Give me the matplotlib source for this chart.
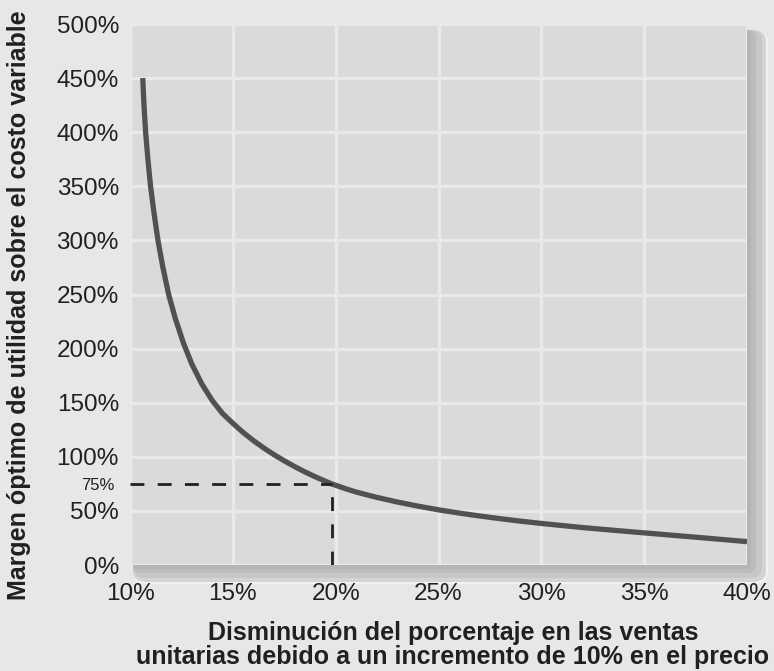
import numpy as np
import matplotlib.pyplot as plt
from matplotlib.patches import FancyBboxPatch

plt.rcParams['font.family'] = ['Liberation Sans', 'DejaVu Sans']

# curve (x: % sales drop, y: optimal markup %)
sales_drop = [10.62, 10.68, 10.76, 10.87, 11.0, 11.17, 11.36, 11.6, 11.88, 12.2,
              12.6, 13.0, 13.5, 14.0, 14.5, 15.0, 15.5, 16.0, 16.5, 17.0,
              17.5, 18.0, 18.5, 19.0, 19.5, 19.8, 20.5, 21.0, 22.0, 23.0,
              24.0, 25.0, 26.0, 27.0, 28.0, 29.0, 30.0, 32.0, 34.0, 36.0,
              38.0, 40.0]
markup = [450, 425, 400, 375, 350, 325, 300, 275, 250, 228,
          205, 186, 167, 152, 140, 131, 122.5, 115, 108.2, 102,
          96.3, 91, 86.1, 81.6, 77.4, 75, 70.4, 67.4, 62.5, 58.2,
          54.4, 51, 48, 45.3, 42.8, 40.5, 38.4, 34.6, 31.3, 28.1,
          24.9, 21.6]

ref_x = 19.8
ref_y = 75

x_ticks = [10, 15, 20, 25, 30, 35, 40]
y_ticks = [0, 50, 100, 150, 200, 250, 300, 350, 400, 450, 500]

bg = '#e6e7e9'
plot_bg = '#d9dadc'
txt = '#231f20'

W, H = 774, 671
fig = plt.figure(figsize=(W / 100, H / 100), dpi=100, facecolor=bg)

# slab shadow behind the plot area (pixel coords -> figure fraction)
def px_box(x0, y0, x1, y1, color, r):
    p = FancyBboxPatch((x0 / W, 1 - y1 / H), (x1 - x0) / W, (y1 - y0) / H,
                       boxstyle=f"round,pad=0,rounding_size={r / W}",
                       transform=fig.transFigure, facecolor=color,
                       edgecolor='none', zorder=0)
    fig.patches.append(p)

px_box(133, 30, 768, 584, '#f2f3f4', 14)
px_box(133, 30, 766, 582, '#d3d4d6', 13)
px_box(133, 30, 762, 578, '#c6c7c9', 12)
px_box(133, 30, 756, 573, '#bbbcbe', 9)
px_box(133, 30, 751, 569, '#b4b5b7', 6)

ax = fig.add_axes([130 / W, 1 - 565 / H, (747 - 130) / W, (565 - 24) / H])
ax.set_facecolor(plot_bg)
ax.set_zorder(1)

ax.set_xlim(10, 40)
ax.set_ylim(0, 500)
ax.set_xticks(x_ticks)
ax.set_xticklabels([f"{v}%" for v in x_ticks])
ax.set_yticks(y_ticks)
ax.set_yticklabels([f"{v}%" for v in y_ticks])
ax.set_yticks([ref_y], minor=True)
ax.set_yticklabels([f"{ref_y}%"], minor=True)

ax.tick_params(axis='both', which='major', length=0, labelsize=17.5, colors=txt)
ax.tick_params(axis='x', which='major', pad=13)
ax.tick_params(axis='y', which='major', pad=8)
ax.tick_params(axis='y', which='minor', length=0, labelsize=12, colors=txt, pad=11)

ax.grid(True, which='major', color='#e8e9ea', lw=2.4)
ax.set_axisbelow(True)
for s in ax.spines.values():
    s.set_visible(False)

ax.plot(sales_drop, markup, color='#505153', lw=3.8, solid_capstyle='butt',
        solid_joinstyle='round', zorder=3)

ax.plot([10, ref_x], [ref_y, ref_y], color=txt, lw=2.0, ls=(0, (5, 4.8)), zorder=4)
ax.plot([ref_x, ref_x], [0, ref_y], color=txt, lw=2.0, ls=(0, (5, 4.8)), zorder=4)

fig.text(453 / W, 1 - 645 / H,
         "Disminución del porcentaje en las ventas\nunitarias debido a un incremento de 10% en el precio",
         ha='center', va='center', fontsize=18, fontweight='bold', color=txt,
         linespacing=1.0)
fig.text(19 / W, 1 - 305 / H,
         "Margen óptimo de utilidad sobre el costo variable",
         ha='center', va='center', rotation=90, fontsize=18, fontweight='bold',
         color=txt)

fig.savefig('out.png', dpi=100, facecolor=bg)
